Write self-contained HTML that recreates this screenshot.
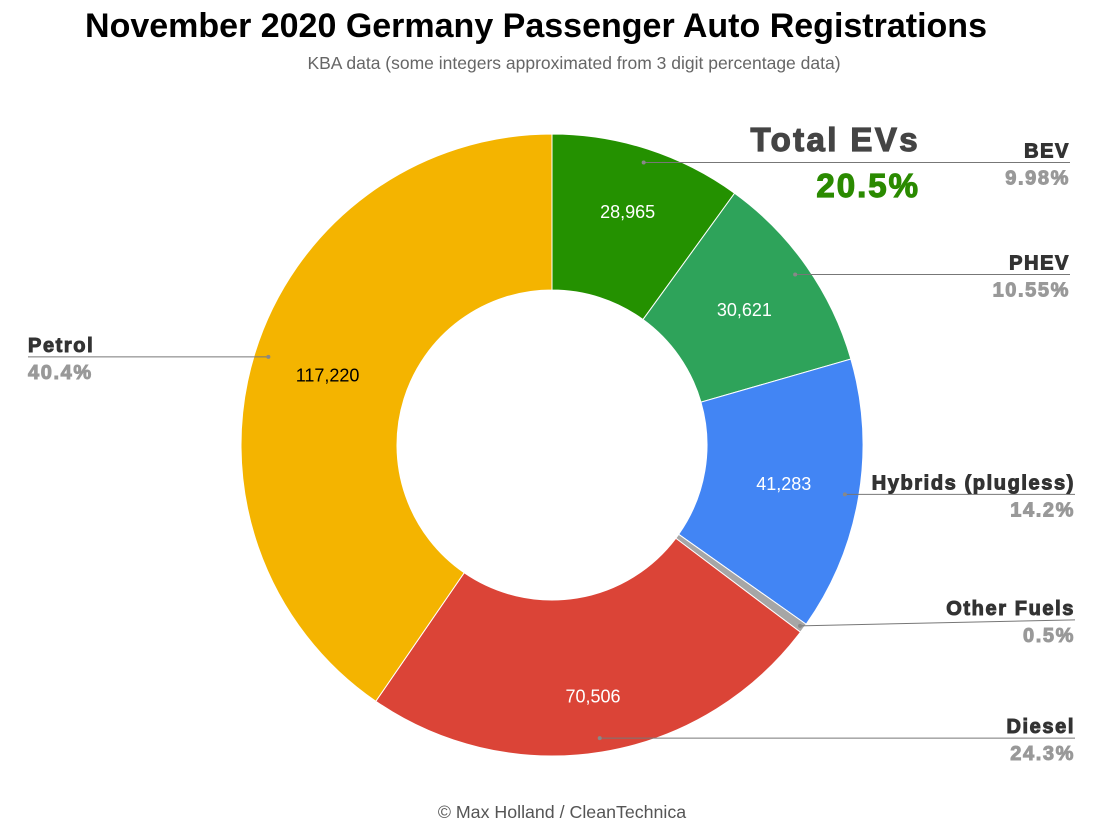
<!DOCTYPE html>
<html><head><meta charset="utf-8"><style>
body{margin:0;background:#fff;}
svg{display:block;}
.nm{font-family:"Liberation Sans",sans-serif;font-weight:900;font-size:20px;letter-spacing:1.6px;fill:#333;stroke:#333;stroke-width:1px;}
.pc{font-family:"Liberation Sans",sans-serif;font-weight:900;font-size:20px;letter-spacing:1.6px;fill:#999;stroke:#999;stroke-width:1px;}
</style></head><body>
<svg id="chart" width="1103" height="827" viewBox="0 0 1103 827">
<text x="536" y="37" text-anchor="middle" font-family="Liberation Sans, sans-serif" font-weight="bold" font-size="34" fill="#000">November 2020 Germany Passenger Auto Registrations</text>
<text x="574" y="69" text-anchor="middle" font-family="Liberation Sans, sans-serif" font-size="17.5" fill="#666">KBA data (some integers approximated from 3 digit percentage data)</text>
<text x="562" y="818" text-anchor="middle" font-family="Liberation Sans, sans-serif" font-size="17.8" fill="#555">© Max Holland / CleanTechnica</text>
<text x="920" y="151" text-anchor="end" font-family="Liberation Sans, sans-serif" font-weight="900" font-size="33" letter-spacing="2.4" fill="#444" stroke="#444" stroke-width="1.2">Total EVs</text>
<text x="920" y="197" text-anchor="end" font-family="Liberation Sans, sans-serif" font-weight="900" font-size="33" letter-spacing="2" fill="#2a8a00" stroke="#2a8a00" stroke-width="1.2">20.5%</text>
<g id="slices"></g><g id="labels"></g>
</svg>
<script>
const categories=["BEV","PHEV","Hybrids (plugless)","Other Fuels","Diesel","Petrol"];
const values=[28965,30621,41283,1450,70506,117220];
const valueLabels=["28,965","30,621","41,283","","70,506","117,220"];
const percentLabels=["9.98%","10.55%","14.2%","0.5%","24.3%","40.4%"];
const colors=["#249100","#2ea35a","#4285f4","#a6a6a6","#db4437","#f4b400"];
const cx=552,cy=445,R=311,r=155;
const NS="http://www.w3.org/2000/svg";
const total=values.reduce((a,b)=>a+b,0);
function pt(a,rad){return [cx+rad*Math.sin(a),cy-rad*Math.cos(a)];}
const gS=document.getElementById('slices'),gL=document.getElementById('labels');
const side=[1,1,1,1,1,-1];
const edgeX=[1070,1070,1075,1075,1075,28];
const labelR=[245,235,235,0,255,235];
let acc=0;
values.forEach((v,i)=>{
  const a0=acc/total*2*Math.PI; acc+=v; const a1=acc/total*2*Math.PI;
  const large=(a1-a0)>Math.PI?1:0;
  const p0=pt(a0,R),p1=pt(a1,R),q1=pt(a1,r),q0=pt(a0,r);
  const p=document.createElementNS(NS,'path');
  p.setAttribute('d',`M${p0[0]},${p0[1]}A${R},${R} 0 ${large} 1 ${p1[0]},${p1[1]}L${q1[0]},${q1[1]}A${r},${r} 0 ${large} 0 ${q0[0]},${q0[1]}Z`);
  p.setAttribute('fill',colors[i]);p.setAttribute('stroke','#fff');p.setAttribute('stroke-width','1');
  
  
  gS.appendChild(p);
  const am=(a0+a1)/2;
  if(valueLabels[i]){
    const lp=pt(am,labelR[i]);
    const t=document.createElementNS(NS,'text');
    t.setAttribute('x',lp[0]);t.setAttribute('y',lp[1]+6);t.setAttribute('text-anchor','middle');
    t.setAttribute('font-family','Liberation Sans, sans-serif');t.setAttribute('font-size','18');
    t.setAttribute('fill',i==5?'#000':'#fff');t.textContent=valueLabels[i];
    
    
    gL.appendChild(t);
  }
  const dp=pt(am,i==3?R-4:R*0.955);
  const ly=i==3?dp[1]-6:dp[1];
  const ln=document.createElementNS(NS,'polyline');
  ln.setAttribute('points',`${dp[0]},${dp[1]} ${edgeX[i]},${ly}`);
  ln.setAttribute('stroke','#777');ln.setAttribute('fill','none');ln.setAttribute('stroke-width','1');
  
  
  gL.appendChild(ln);
  const dot=document.createElementNS(NS,'circle');
  dot.setAttribute('cx',dp[0]);dot.setAttribute('cy',dp[1]);dot.setAttribute('r','2');dot.setAttribute('fill','#888');
  
  
  gL.appendChild(dot);
  const anchor=side[i]>0?'end':'start';
  const n=document.createElementNS(NS,'text');
  n.setAttribute('x',edgeX[i]);n.setAttribute('y',ly-5);n.setAttribute('text-anchor',anchor);n.setAttribute('class','nm');
  n.textContent=categories[i];
  
  
  gL.appendChild(n);
  const pc=document.createElementNS(NS,'text');
  pc.setAttribute('x',edgeX[i]);pc.setAttribute('y',ly+22);pc.setAttribute('text-anchor',anchor);pc.setAttribute('class','pc');
  pc.textContent=percentLabels[i];
  
  
  gL.appendChild(pc);
});
</script>
</body></html>
